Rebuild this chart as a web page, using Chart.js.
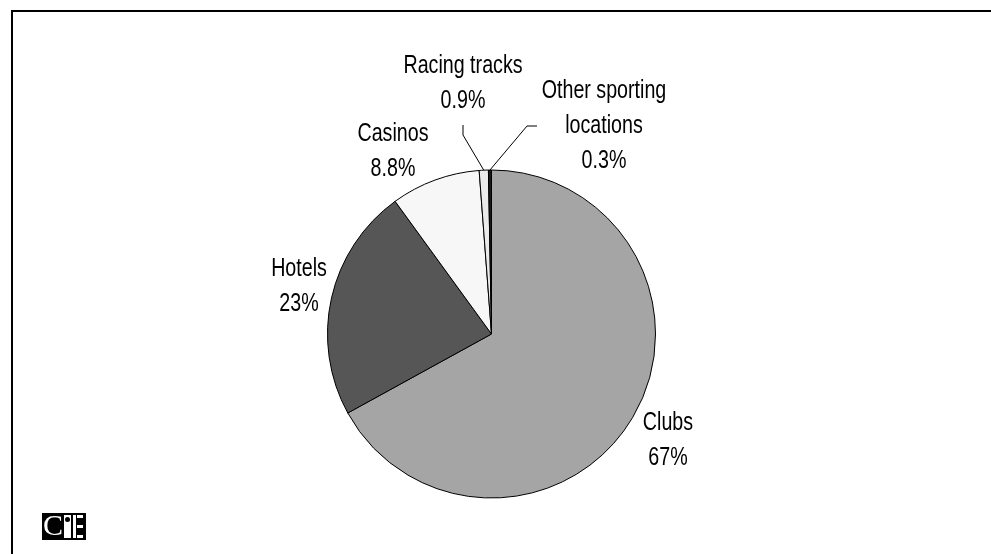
<!DOCTYPE html>
<html>
<head>
<meta charset="utf-8">
<script src="https://cdn.jsdelivr.net/npm/chart.js@4"></script>
<style>
  html, body { margin: 0; padding: 0; background: #fff; }
  #wrap { position: relative; width: 991px; height: 554px; overflow: hidden; }
  #frame { position: absolute; left: 11px; top: 10px; right: -10px; bottom: -10px;
           border-top: 2px solid #000; border-left: 2px solid #000; }
  canvas { position: absolute; left: 0; top: 0; }
  #logo { position: absolute; left: 42px; top: 513px; width: 44px; height: 27px; background: #000; }
  #logo .c { position: absolute; left: 1px; top: -3px; font: 30px "Liberation Serif", serif; color: #fff; line-height: 30px; }
  #logo .i { position: absolute; left: 22px; top: 2px; width: 7px; height: 23px; background: #fff; }
  #logo .dot { position: absolute; left: 1px; top: 2px; width: 5px; height: 5px; border-radius: 50%; background: #000; }
  #logo .ev { position: absolute; left: 31px; top: 2px; width: 3px; height: 23px; background: #fff; }
  #logo .eh { position: absolute; left: 35px; width: 6px; height: 3px; background: #fff; }
</style>
</head>
<body>
<div id="wrap">
  <canvas id="chart" width="991" height="554"></canvas>
  <div id="frame"></div>
  <div id="logo">
    <span class="c">C</span>
    <div class="i"><div class="dot"></div></div>
    <div class="ev"></div>
    <div class="eh" style="top:2px"></div>
    <div class="eh" style="top:12px"></div>
    <div class="eh" style="top:22px"></div>
  </div>
</div>
<script>
// Gambling venues: share of expenditure by venue type
const categories = ['Clubs', 'Hotels', 'Casinos', 'Racing tracks', 'Other sporting locations'];
const labelLines = [['Clubs'], ['Hotels'], ['Casinos'], ['Racing tracks'], ['Other sporting', 'locations']];
const shares = [67, 23, 8.8, 0.9, 0.3];
const sliceColors = ['#a5a5a5', '#565656', '#f7f7f7', '#ebebeb', '#1a1a1a'];

// Where each label block sits: centre x and first baseline, relative to the
// pie centre; small slices get a leader line (elbow, end) relative to that anchor.
const labelPlacement = [
  { anchor: [176.5, 96] },
  { anchor: [-192.5, -58] },
  { anchor: [-98.5, -193] },
  { anchor: [-28.5, -261], leader: [[0, 62], [0, 52]] },
  { anchor: [112.5, -236], leader: [[-77, 28], [-67, 28]] }
];

const FONT_SIZE = 24.9;
const X_SCALE = 0.79;
const LINE_GAP = 35;

function drawText(ctx, text, x, y) {
  ctx.save();
  ctx.translate(x, y);
  ctx.scale(X_SCALE, 1);
  ctx.fillText(text, 0, 0);
  ctx.restore();
}

const sliceLabels = {
  id: 'sliceLabels',
  afterDatasetsDraw(chart) {
    const ctx = chart.ctx;
    const arcs = chart.getDatasetMeta(0).data;
    ctx.save();
    ctx.font = FONT_SIZE + 'px "Liberation Sans", Arial, sans-serif';
    ctx.fillStyle = '#000';
    ctx.textAlign = 'center';
    ctx.textBaseline = 'alphabetic';
    arcs.forEach((arc, i) => {
      const { x, y, startAngle, endAngle, outerRadius } =
        arc.getProps(['x', 'y', 'startAngle', 'endAngle', 'outerRadius'], true);
      const mid = (startAngle + endAngle) / 2;
      const lines = labelLines[i].concat([shares[i] + '%']);
      const p = labelPlacement[i];
      const cx = x + p.anchor[0];
      const cy = y + p.anchor[1];
      if (p.leader) {
        const ex = x + Math.cos(mid) * outerRadius;
        const ey = y + Math.sin(mid) * outerRadius;
        ctx.save();
        ctx.strokeStyle = '#000';
        ctx.lineWidth = 1;
        ctx.beginPath();
        ctx.moveTo(ex, ey);
        ctx.lineTo(cx + p.leader[0][0], cy + p.leader[0][1]);
        ctx.lineTo(cx + p.leader[1][0], cy + p.leader[1][1]);
        ctx.stroke();
        ctx.restore();
      }
      lines.forEach((t, k) => drawText(ctx, t, cx, cy + k * LINE_GAP));
    });
    ctx.restore();
  }
};

new Chart(document.getElementById('chart'), {
  type: 'pie',
  data: {
    labels: categories,
    datasets: [{
      data: shares,
      backgroundColor: sliceColors,
      borderColor: '#000',
      borderWidth: 1
    }]
  },
  options: {
    responsive: false,
    animation: false,
    layout: { padding: { left: 327, right: 335, top: 169.5, bottom: 55.5 } },
    plugins: {
      legend: { display: false },
      tooltip: { enabled: false }
    }
  },
  plugins: [sliceLabels]
});
</script>
</body>
</html>
